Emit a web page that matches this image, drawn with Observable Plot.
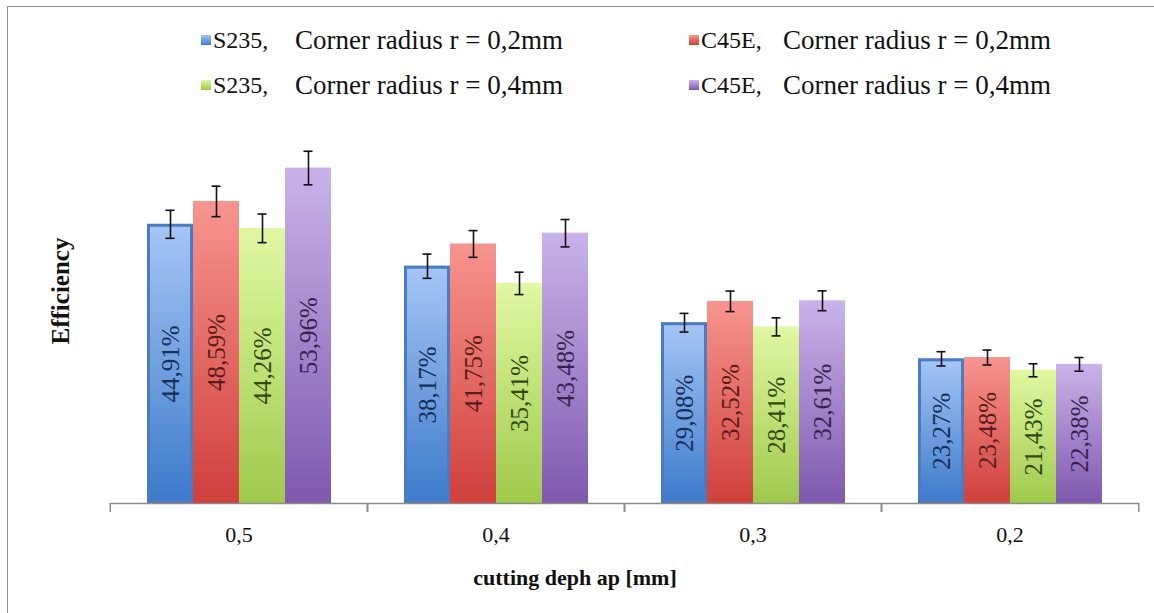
<!DOCTYPE html>
<html>
<head>
<meta charset="utf-8">
<script src="https://cdn.jsdelivr.net/npm/d3@7"></script>
<script src="https://cdn.jsdelivr.net/npm/@observablehq/plot@0.6"></script>
<style>
  body { margin: 0; background: #fff; }
  #wrap { position: relative; width: 1154px; height: 613px; overflow: hidden; background: #fff; }
  #border { position: absolute; left: 7px; top: 6px; width: 1170px; height: 640px; border: 1.5px solid #8f8f8f; box-sizing: border-box; pointer-events: none; }
  #legend { position: relative; height: 110px; }
  .item { position: absolute; display: flex; align-items: center; white-space: nowrap; height: 32px; line-height: 32px; }
  .sw { width: 10px; height: 10px; display: inline-block; margin-right: 2px; }
  .mat { font-size: 24px; color: #111; display: inline-block; width: 82px; }
  .rad { font-size: 27px; color: #111; }
  #plot svg { display: block; }
  #xtitle { width: 1150px; text-align: center; font-family: 'Liberation Serif'; font-weight: bold; font-size: 22px; color: #111; line-height: 30px; margin-top: 8px; }
</style>
</head>
<body>
<div id="wrap">
  <div id="legend"></div>
  <div id="plot"></div>
  <div id="xtitle"></div>
  <div id="border"></div>
</div>
<script>
// ---- data ----
const depths = ["0,5", "0,4", "0,3", "0,2"];
const series = ["S235 r0,2", "C45E r0,2", "S235 r0,4", "C45E r0,4"];
const materials = ["S235,", "C45E,", "S235,", "C45E,"];
const radii = ["Corner radius r = 0,2mm", "Corner radius r = 0,2mm", "Corner radius r = 0,4mm", "Corner radius r = 0,4mm"];
const s235_r02 = [44.91, 38.17, 29.08, 23.27];
const c45e_r02 = [48.59, 41.75, 32.52, 23.48];
const s235_r04 = [44.26, 35.41, 28.41, 21.43];
const c45e_r04 = [53.96, 43.48, 32.61, 22.38];
const err_s235_r02 = [2.25, 1.95, 1.5, 1.15];
const err_c45e_r02 = [2.45, 2.15, 1.65, 1.2];
const err_s235_r04 = [2.3, 1.8, 1.45, 1.05];
const err_c45e_r04 = [2.7, 2.2, 1.6, 1.1];
const xTitle = "cutting deph ap [mm]";
const yTitle = "Efficiency";

// ---- styles ----
const gradTop = ["#a6c6f5", "#f7948f", "#e0f8a2", "#c9b3ea"];
const gradBot = ["#3c7acb", "#d03f3c", "#a0c94c", "#7f58ae"];
const labelColor = ["#14305a", "#5a1c1a", "#334a12", "#36244f"];
const regularFont = "font-family:'Liberation Serif';font-weight:500";

const values = [s235_r02, c45e_r02, s235_r04, c45e_r04];
const errors = [err_s235_r02, err_c45e_r02, err_s235_r04, err_c45e_r04];
const rows = [];
depths.forEach((d, j) => series.forEach((s, i) => rows.push({
  depth: d, series: s, si: i, value: values[i][j], err: errors[i][j]
})));
const fmt = v => v.toFixed(2).replace(".", ",") + "%";

// ---- legend ----
const legend = document.getElementById("legend");
const legendPos = [[201, 24], [689, 24], [201, 69], [689, 69]];
series.forEach((s, i) => {
  const it = document.createElement("div");
  it.className = "item";
  it.style.left = legendPos[i][0] + "px";
  it.style.top = legendPos[i][1] + "px";
  it.innerHTML = `<span class="sw" style="background:linear-gradient(${gradTop[i]},${gradBot[i]})"></span><span class="mat" style="${regularFont}">${materials[i]}</span><span class="rad" style="${regularFont}">${radii[i]}</span>`;
  legend.appendChild(it);
});
document.getElementById("xtitle").textContent = xTitle;

// ---- plot ----
const W = 1154, H = 445, mL = 109, mR = 15, mT = 20, mB = 52;
const step = (W - mL - mR) / depths.length;
const serif = "Liberation Serif";

function defsMark() {
  const ns = "http://www.w3.org/2000/svg";
  const defs = document.createElementNS(ns, "defs");
  series.forEach((s, i) => {
    const lg = document.createElementNS(ns, "linearGradient");
    lg.setAttribute("id", "grad" + i);
    lg.setAttribute("x1", "0"); lg.setAttribute("y1", "0");
    lg.setAttribute("x2", "0"); lg.setAttribute("y2", "1");
    [[0, gradTop[i]], [1, gradBot[i]]].forEach(([o, c]) => {
      const st = document.createElementNS(ns, "stop");
      st.setAttribute("offset", o);
      st.setAttribute("stop-color", c);
      lg.appendChild(st);
    });
    defs.appendChild(lg);
  });
  return defs;
}

const chart = Plot.plot({
  width: W, height: H,
  marginLeft: mL, marginRight: mR, marginTop: mT, marginBottom: mB,
  style: { fontFamily: serif, fontSize: "20px", color: "#111", background: "transparent" },
  fx: { domain: depths, paddingInner: 0, paddingOuter: 0, label: null },
  x: { domain: series, paddingInner: 0, paddingOuter: 0.745, axis: null },
  y: { domain: [0, 60], axis: null },
  color: { type: "identity" },
  marks: [
    defsMark,
    Plot.barY(rows, { fx: "depth", x: "series", y: "value", fill: d => `url(#grad${d.si})` }),
    Plot.barY(rows.filter(d => d.si === 0), { fx: "depth", x: "series", y: "value", fill: "none", stroke: "#4a7cbf", strokeWidth: 3, inset: 1.5 }),
    Plot.ruleY([0], { stroke: "#8c8c8c", strokeWidth: 1.5 }),
    Plot.axisFx({ anchor: "bottom", tickSize: 9, tickFormat: () => "", label: null, dx: -step / 2, stroke: "#8c8c8c", strokeWidth: 1.5 }),
    Plot.axisFx({ anchor: "bottom", tickSize: 9, tickFormat: () => "", label: null, dx: step / 2, stroke: "#8c8c8c", strokeWidth: 1.5 }),
    Plot.axisFx({ anchor: "bottom", tickSize: 0, tickPadding: 23, label: null, fontSize: 22, fontFamily: serif, fontWeight: 500, fill: "#111" }),
    Plot.ruleX(rows, { fx: "depth", x: "series", y1: d => d.value - d.err, y2: d => d.value + d.err, stroke: "#111", strokeWidth: 1.6 }),
    Plot.tickY(rows, { fx: "depth", x: "series", y: d => d.value + d.err, stroke: "#111", strokeWidth: 1.6, insetLeft: 18.5, insetRight: 18.5 }),
    Plot.tickY(rows, { fx: "depth", x: "series", y: d => d.value - d.err, stroke: "#111", strokeWidth: 1.6, insetLeft: 18.5, insetRight: 18.5 }),
    ...series.map((s, i) => Plot.text(rows.filter(d => d.si === i), {
      fx: "depth", x: "series", y: d => d.value / 2, text: d => fmt(d.value),
      rotate: -90, fontSize: 25, fill: labelColor[i], fontFamily: serif, fontWeight: 500
    })),
    Plot.text([yTitle], { fx: [depths[0]], text: d => d, frameAnchor: "left", textAnchor: "middle", dx: -50, dy: -26, rotate: -90, fontSize: 25, fontWeight: "bold", fontFamily: serif, fill: "#111" })
  ]
});
document.getElementById("plot").appendChild(chart);
</script>
</body>
</html>
